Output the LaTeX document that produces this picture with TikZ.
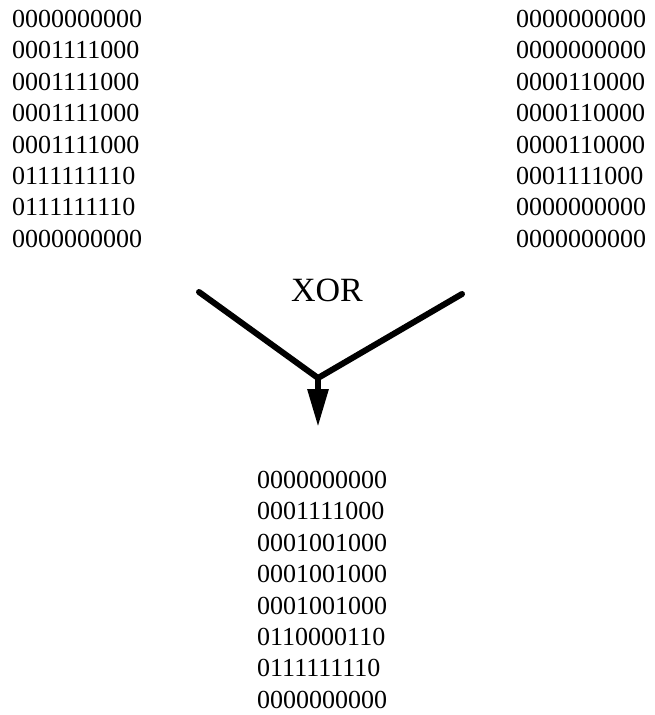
\documentclass[tikz,border=0pt]{standalone}
\usepackage{fontspec}
\setmainfont{Liberation Serif}
\usetikzlibrary{arrows.meta}
\usetikzlibrary{positioning}

\tikzset{
  bits/.style={anchor=north west, inner sep=0pt, align=left,
    font=\fontsize{26}{31.4}\selectfont},
  bar/.style={line width=6pt, line cap=round, line join=round},
}

\begin{document}
\begin{tikzpicture}[x=1pt,y=-1pt]
				\useasboundingbox (0,0) rectangle (654,715);
				
				\node[bits] (A) at (12,10) {0000000000\\0001111000\\0001111000\\0001111000\\0001111000\\0111111110\\0111111110\\0000000000};
				\node[bits] (B) at (516,10) {0000000000\\0000000000\\0000110000\\0000110000\\0000110000\\0001111000\\0000000000\\0000000000};
				\node[bits] (C) at (257,471) {0000000000\\0001111000\\0001001000\\0001001000\\0001001000\\0110000110\\0111111110\\0000000000};
				
				\node[font=\fontsize{34}{40}\selectfont] (op) at (327,290) {XOR};
				
				\coordinate (a) at (199,292);
				\coordinate (b) at (462,294);
				\coordinate (m) at (318,378);
				\coordinate (tip) at (318,427);
				
				\draw[bar] (a) -- (m) -- (b);
				\draw[bar, line cap=butt, -{Triangle[length=38pt,width=20pt]}] (m) -- (tip);
			\end{tikzpicture}
\end{document}
